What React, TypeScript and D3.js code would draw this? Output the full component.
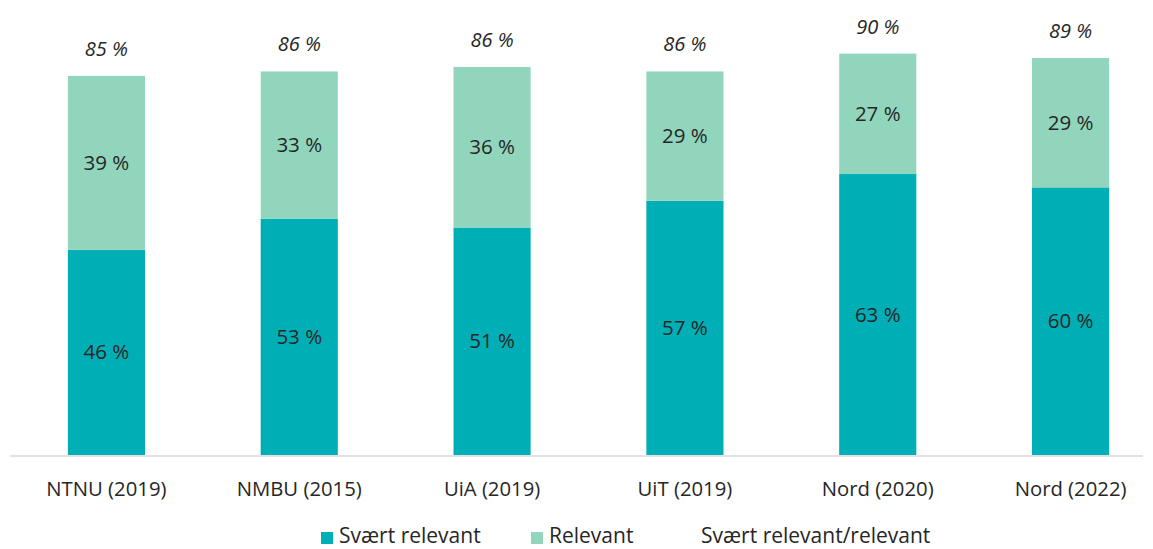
import React from "react";
import * as d3 from "d3";

const categories = ["NTNU (2019)", "NMBU (2015)", "UiA (2019)", "UiT (2019)", "Nord (2020)", "Nord (2022)"];
const svaertRelevant = [46, 53, 51, 57, 63, 60];
const relevant = [39, 33, 36, 29, 27, 29];
const totals = [85, 86, 86, 86, 90, 89];
const legendLabels = ["Svært relevant", "Relevant", "Svært relevant/relevant"];

const DARK = "#00AEB6";
const LIGHT = "#91D6BC";
const TEXT = "#262626";
const FONT = "'Open Sans', sans-serif";

export default function App() {
  const width = 1153;
  const height = 549;
  const baseY = 455;

  const x = d3.scaleBand<string>()
    .domain(categories)
    .range([10, 1167])
    .paddingInner(0.6)
    .paddingOuter(0.3);
  const y = d3.scaleLinear().domain([0, 100]).range([baseY, baseY - 446]);

  const rows = categories.map((c, i) => ({ cat: c, sv: svaertRelevant[i], rel: relevant[i], total: totals[i] }));
  const stack = d3.stack<any>().keys(["sv", "rel"])(rows);
  const colors = [DARK, LIGHT];

  // legend positions
  const legendItems = [
    { label: legendLabels[0], color: DARK, x: 321 },
    { label: legendLabels[1], color: LIGHT, x: 531 },
    { label: legendLabels[2], color: "none", x: 683 },
  ];

  return (
    <svg width={width} height={height} style={{ position: "absolute", left: 0, top: 0 }} fontFamily={FONT}>
      {stack.map((layer, li) => (
        <g key={layer.key}>
          {layer.map((d, i) => {
            const x0 = x(categories[i])!;
            const y0 = y(d[1]);
            const h = y(d[0]) - y(d[1]);
            return (
              <g key={i}>
                <rect x={x0} y={y0} width={x.bandwidth()} height={h} fill={colors[li]} />
                <text x={x0 + x.bandwidth() / 2} y={y0 + h / 2 + 7} textAnchor="middle" fontSize={20.5} fill={TEXT}>
                  {(li === 0 ? rows[i].sv : rows[i].rel) + " %"}
                </text>
              </g>
            );
          })}
        </g>
      ))}
      {rows.map((r, i) => (
        <text key={r.cat} x={x(r.cat)! + x.bandwidth() / 2} y={y(r.sv + r.rel) - 20} textAnchor="middle"
          fontSize={20} fontStyle="italic" fill={TEXT}>
          {r.total + " %"}
        </text>
      ))}
      <line x1={10} x2={1143} y1={baseY + 1} y2={baseY + 1} stroke="#D9D9D9" strokeWidth={1.5} />
      {categories.map((c) => (
        <text key={c} x={x(c)! + x.bandwidth() / 2} y={496} textAnchor="middle" fontSize={20.3} fill={TEXT}>
          {c}
        </text>
      ))}
      {legendItems.map((l) => (
        <g key={l.label}>
          {l.color !== "none" && <rect x={l.x} y={532} width={12} height={12} fill={l.color} />}
          <text x={l.x + 18} y={543} fontSize={21} fill={TEXT}>{l.label}</text>
        </g>
      ))}
    </svg>
  );
}
